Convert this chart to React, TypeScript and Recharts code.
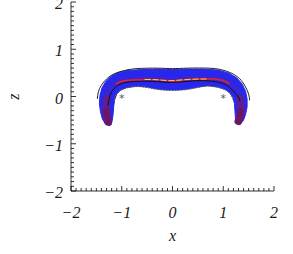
import { ScatterChart, Scatter, XAxis, YAxis } from "recharts";

// axis ticks (labels only on the integers)
const majorTicks = [-2, -1, 0, 1, 2];
const minorTicks: number[] = [];
for (let i = -20; i <= 20; i++) minorTicks.push(i / 10);

// blue band: outer edge from left tip round to right tip
const bandOuter = [
  [-1.25, -0.62], [-1.32, -0.58], [-1.38, -0.48], [-1.42, -0.32], [-1.44, -0.15],
  [-1.43, 0.02], [-1.39, 0.18], [-1.32, 0.31], [-1.22, 0.42], [-1.08, 0.5],
  [-0.9, 0.55], [-0.6, 0.57], [-0.3, 0.58], [0, 0.57], [0.3, 0.58], [0.6, 0.58],
  [0.9, 0.56], [1.1, 0.5], [1.26, 0.4], [1.37, 0.27], [1.44, 0.11], [1.47, -0.05],
  [1.47, -0.22], [1.44, -0.38], [1.4, -0.5], [1.34, -0.57], [1.3, -0.59],
];
// ...and inner edge back from the right tip
const bandInner = [
  [1.26, -0.55], [1.24, -0.45], [1.23, -0.3], [1.22, -0.15], [1.19, -0.02],
  [1.13, 0.08], [1.04, 0.15], [0.9, 0.2], [0.7, 0.23], [0.5, 0.2], [0.3, 0.16],
  [0.1, 0.14], [-0.1, 0.14], [-0.3, 0.16], [-0.5, 0.2], [-0.7, 0.22], [-0.9, 0.19],
  [-1.03, 0.13], [-1.1, 0.05], [-1.14, -0.07], [-1.16, -0.22], [-1.17, -0.38],
  [-1.19, -0.52], [-1.21, -0.6],
];

const centerLine = [
  [-1.27, -0.52], [-1.3, -0.4], [-1.31, -0.2], [-1.29, 0], [-1.22, 0.17],
  [-1.1, 0.28], [-0.95, 0.34], [-0.7, 0.37], [-0.4, 0.37], [-0.1, 0.35],
  [0.2, 0.36], [0.5, 0.38], [0.8, 0.37], [1.0, 0.33], [1.15, 0.25],
  [1.27, 0.12], [1.33, -0.05], [1.35, -0.25], [1.34, -0.42], [1.3, -0.52],
];
const leftCore = [[-1.29, -0.05], [-1.31, -0.2], [-1.3, -0.38], [-1.27, -0.53]];
const rightCore = [[1.33, -0.05], [1.35, -0.25], [1.34, -0.4], [1.3, -0.52]];
const leftTip = [[-1.3, -0.3], [-1.29, -0.42], [-1.26, -0.54]];
const rightTip = [[1.34, -0.3], [1.33, -0.42], [1.3, -0.53]];

const redLine = [
  [-1.12, 0.26], [-1.0, 0.32], [-0.8, 0.35], [-0.5, 0.36], [-0.2, 0.35], [0, 0.33],
  [0.2, 0.35], [0.5, 0.37], [0.8, 0.37], [1.0, 0.34], [1.12, 0.27],
];
const yellowLine = [[-0.55, 0.36], [-0.3, 0.355], [-0.05, 0.335], [0.3, 0.36], [0.68, 0.37]];

const innerBlack = [
  [-1.27, -0.2], [-1.25, -0.05], [-1.2, 0.1], [-1.1, 0.22], [-0.95, 0.29],
  [-0.7, 0.32], [-0.4, 0.32], [0, 0.3], [0.4, 0.33], [0.7, 0.33], [0.95, 0.29],
  [1.12, 0.2], [1.23, 0.08], [1.3, -0.02], [1.33, -0.1],
];
const outerContour = [
  [-1.48, -0.05], [-1.46, 0.1], [-1.4, 0.24], [-1.3, 0.37], [-1.15, 0.48],
  [-0.95, 0.55], [-0.7, 0.59], [-0.3, 0.6], [0, 0.59], [0.3, 0.6], [0.7, 0.6],
  [0.95, 0.57], [1.15, 0.5], [1.32, 0.38], [1.43, 0.22], [1.5, 0.05], [1.52, -0.08],
];
const innerContour = [
  [-1.15, -0.12], [-1.12, 0.03], [-1.04, 0.12], [-0.9, 0.18], [-0.7, 0.21],
  [-0.5, 0.19], [-0.3, 0.15], [-0.1, 0.13], [0.1, 0.13], [0.3, 0.15], [0.5, 0.19],
  [0.7, 0.22], [0.9, 0.19], [1.04, 0.14], [1.14, 0.05], [1.2, -0.08],
];
const stars = [[-1, 0], [1, 0]];

const pts = (a: number[][]) => a.map(([x, z]) => ({ x, z }));

const fmt = (v: number) => (v < 0 ? "\u2212" + Math.abs(v) : String(v));
const isMajor = (v: number) => majorTicks.some((m) => Math.abs(m - v) < 1e-6);

const Serif = (props: any) => (
  <text
    fontFamily="Liberation Serif"
    fontStyle="italic"
    fontSize={16}
    fill="#1a1a1a"
    {...props}
  />
);

const XTick = (props: any) => {
  const { x, y, payload } = props;
  const major = isMajor(payload.value);
  return (
    <g>
      <line x1={x} x2={x} y1={y} y2={y - (major ? 5 : 3)} stroke="#000" strokeWidth={0.8} />
      {major && (
        <Serif x={x} y={y + 27} textAnchor="middle">
          {fmt(Math.round(payload.value))}
        </Serif>
      )}
    </g>
  );
};

const YTick = (props: any) => {
  const { x, y, payload } = props;
  const major = isMajor(payload.value);
  return (
    <g>
      <line x1={x} x2={x + (major ? 5 : 3)} y1={y} y2={y} stroke="#000" strokeWidth={0.8} />
      {major && (
        <Serif x={x - 8} y={y + 7} textAnchor="end">
          {fmt(Math.round(payload.value))}
        </Serif>
      )}
    </g>
  );
};

const XTitle = (props: any) => {
  const vb = props.viewBox;
  return (
    <Serif x={vb.x + vb.width / 2} y={vb.y + 50} textAnchor="middle">
      x
    </Serif>
  );
};
const YTitle = (props: any) => {
  const vb = props.viewBox;
  const cx = 15;
  const cy = vb.y + vb.height / 2;
  return (
    <Serif x={cx} y={cy} transform={`rotate(-90 ${cx} ${cy})`} textAnchor="middle" dy={4}>
      z
    </Serif>
  );
};

const Empty = () => <g />;
const Star = (props: any) => (
  <text x={props.cx} y={props.cy + 5} textAnchor="middle" fontSize={11} fill="#555" fontFamily="DejaVu Sans">
    *
  </text>
);

export default function App() {
  return (
    <div style={{ position: "absolute", left: 0, top: 0 }}>
      <ScatterChart width={293} height={254} margin={{ top: 2, right: 19, left: 0, bottom: 0 }}>
        <XAxis
          dataKey="x"
          type="number"
          domain={[-2, 2]}
          ticks={minorTicks}
          interval={0}
          tickSize={0}
          tickMargin={0}
          tickLine={false}
          axisLine={{ stroke: "#000", strokeWidth: 0.8 }}
          tick={(p: any) => <XTick {...p} />}
          height={63}
          label={<XTitle />}
        />
        <YAxis
          dataKey="z"
          type="number"
          domain={[-2, 2]}
          ticks={minorTicks}
          interval={0}
          tickSize={0}
          tickMargin={0}
          tickLine={false}
          axisLine={{ stroke: "#000", strokeWidth: 0.8 }}
          tick={(p: any) => <YTick {...p} />}
          width={71}
          label={<YTitle />}
        />
        <Scatter
          data={pts([...bandOuter, ...bandInner])}
          isAnimationActive={false}
          shape={Empty}
          line={{ fill: "#2727ee", stroke: "#2727ee", strokeWidth: 1 }}
          lineJointType="linearClosed"
        />
        <Scatter
          data={pts(centerLine)}
          isAnimationActive={false}
          shape={Empty}
          line={{ stroke: "#4a26b8", strokeWidth: 6, strokeOpacity: 0.45, strokeLinecap: "round", strokeLinejoin: "round" }}
          lineJointType="natural"
        />
        <Scatter
          data={pts(leftCore)}
          isAnimationActive={false}
          shape={Empty}
          line={{ stroke: "#5a1f9c", strokeWidth: 8, strokeLinecap: "round" }}
          lineJointType="natural"
        />
        <Scatter
          data={pts(rightCore)}
          isAnimationActive={false}
          shape={Empty}
          line={{ stroke: "#5a1f9c", strokeWidth: 8, strokeLinecap: "round" }}
          lineJointType="natural"
        />
        <Scatter
          data={pts(leftTip)}
          isAnimationActive={false}
          shape={Empty}
          line={{ stroke: "#6e1660", strokeWidth: 6, strokeLinecap: "round" }}
          lineJointType="natural"
        />
        <Scatter
          data={pts(rightTip)}
          isAnimationActive={false}
          shape={Empty}
          line={{ stroke: "#6e1660", strokeWidth: 6, strokeLinecap: "round" }}
          lineJointType="natural"
        />
        <Scatter
          data={pts(outerContour)}
          isAnimationActive={false}
          shape={Empty}
          line={{ stroke: "#222", strokeWidth: 1 }}
          lineJointType="natural"
        />
        <Scatter
          data={pts(innerContour)}
          isAnimationActive={false}
          shape={Empty}
          line={{ stroke: "#555", strokeWidth: 1, strokeDasharray: "2 1" }}
          lineJointType="natural"
        />
        <Scatter
          data={pts(innerBlack)}
          isAnimationActive={false}
          shape={Empty}
          line={{ stroke: "#111", strokeWidth: 1 }}
          lineJointType="natural"
        />
        <Scatter
          data={pts(redLine)}
          isAnimationActive={false}
          shape={Empty}
          line={{ stroke: "#e0203a", strokeWidth: 1.6 }}
          lineJointType="natural"
        />
        <Scatter
          data={pts(yellowLine)}
          isAnimationActive={false}
          shape={Empty}
          line={{ stroke: "#ffd23a", strokeWidth: 1, strokeDasharray: "6 2" }}
          lineJointType="natural"
        />
        <Scatter data={pts(stars)} isAnimationActive={false} shape={Star} />
      </ScatterChart>
    </div>
  );
}
